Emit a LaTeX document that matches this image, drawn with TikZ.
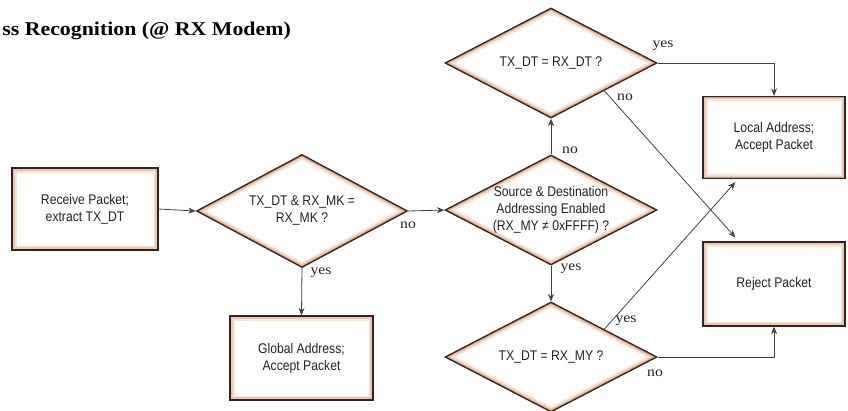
\documentclass[tikz,border=0pt]{standalone}
\usepackage{fontspec}
\setmainfont{Liberation Serif}
\newfontfamily\nf[FakeStretch=0.87]{Liberation Sans}
\newfontfamily\wf[FakeStretch=1.12]{Liberation Serif}
\usetikzlibrary{shapes.geometric,arrows.meta,calc}
\definecolor{edgedark}{RGB}{50,36,28}
\definecolor{peachA}{RGB}{248,228,214}
\definecolor{peachB}{RGB}{236,198,176}
\definecolor{peachC}{RGB}{214,160,130}
\definecolor{linegray}{RGB}{65,65,65}
\definecolor{txt}{RGB}{35,35,35}
\tikzset{
  peachband/.style={path picture={
      \draw[peachA,line width=9pt] #1;
      \draw[peachB,line width=5.5pt] #1;
      \draw[peachC,line width=2.8pt] #1;}},
  boxnode/.style={draw=edgedark, line width=1.3pt, fill=white, rectangle,
      inner sep=0pt, align=center, text=txt, font=\nf\fontsize{14}{17}\selectfont,
      peachband={(path picture bounding box.south west) rectangle (path picture bounding box.north east)}},
  decnode/.style={draw=edgedark, line width=1.3pt, fill=white, diamond, aspect=1.93,
      inner sep=0pt, align=center, text=txt, font=\nf\fontsize{14}{17}\selectfont,
      minimum width=212pt, minimum height=110pt,
      peachband={(path picture bounding box.north) -- (path picture bounding box.east) -- (path picture bounding box.south) -- (path picture bounding box.west) -- cycle}},
  conn/.style={draw=linegray, line width=0.8pt},
  arr/.style={conn, -{Stealth[length=7.5pt,width=6pt]}},
  lbl/.style={font=\wf\fontsize{14}{16}\selectfont, text=txt, inner sep=0pt},
}
\begin{document}
\begin{tikzpicture}[x=1pt,y=-1pt]
\useasboundingbox (0,0) rectangle (848,410);
\node[anchor=east, font=\wf\bfseries\fontsize{19.5}{22}\selectfont, inner sep=0pt] (title) at (291,31) {ss Recognition (@ RX Modem)};

\node[boxnode, minimum width=146pt, minimum height=82pt] (recv) at (85,209) {Receive Packet;\\extract TX\_DT};
\node[decnode, minimum height=113pt, minimum width=211pt] (d1) at (302,211) {TX\_DT \& RX\_MK =\\RX\_MK ?};
\node[decnode] (d2) at (551,210) {Source \& Destination\\Addressing Enabled\\(RX\_MY ≠ 0xFFFF) ?};
\node[decnode] (d3) at (551,63) {TX\_DT = RX\_DT ?};
\node[decnode] (d4) at (551,357) {TX\_DT = RX\_MY ?};
\node[boxnode, minimum width=142pt, minimum height=82pt] (local) at (774,137.5) {Local Address;\\Accept Packet};
\node[boxnode, minimum width=142pt, minimum height=84pt] (reject) at (774,284) {Reject Packet};
\node[boxnode, minimum width=143pt, minimum height=84pt] (global) at (301.5,358) {Global Address;\\Accept Packet};

\draw[arr] (recv.east) -- (d1.west);
\draw[arr] (d1.east) -- (d2.west);
\draw[arr] (d1.south) -- (global.north);
\draw[arr] (d2.north) -- (d3.south);
\draw[arr] (d2.south) -- (d4.north);
\draw[arr] (d3.east) -| (local.north);
\draw[arr] (d4.east) -| (reject.south);
\coordinate (rtop) at ($(reject.north west)!0.23!(reject.north east)+(0,-4)$);
\coordinate (lbot) at ($(local.south west)!0.23!(local.south east)+(0,3)$);
\draw[arr] (d3.south east) -- (rtop);
\draw[arr] (d4.north east) -- (lbot);

\node[lbl] (l1) at (408,225) {no};
\node[lbl] (l2) at (570,150) {no};
\node[lbl] (l3) at (571,269) {yes};
\node[lbl] (l4) at (663,46) {yes};
\node[lbl] (l5) at (625,97) {no};
\node[lbl] (l6) at (321,273) {yes};
\node[lbl] (l7) at (626,321) {yes};
\node[lbl] (l8) at (655,373) {no};
\end{tikzpicture}
\end{document}
